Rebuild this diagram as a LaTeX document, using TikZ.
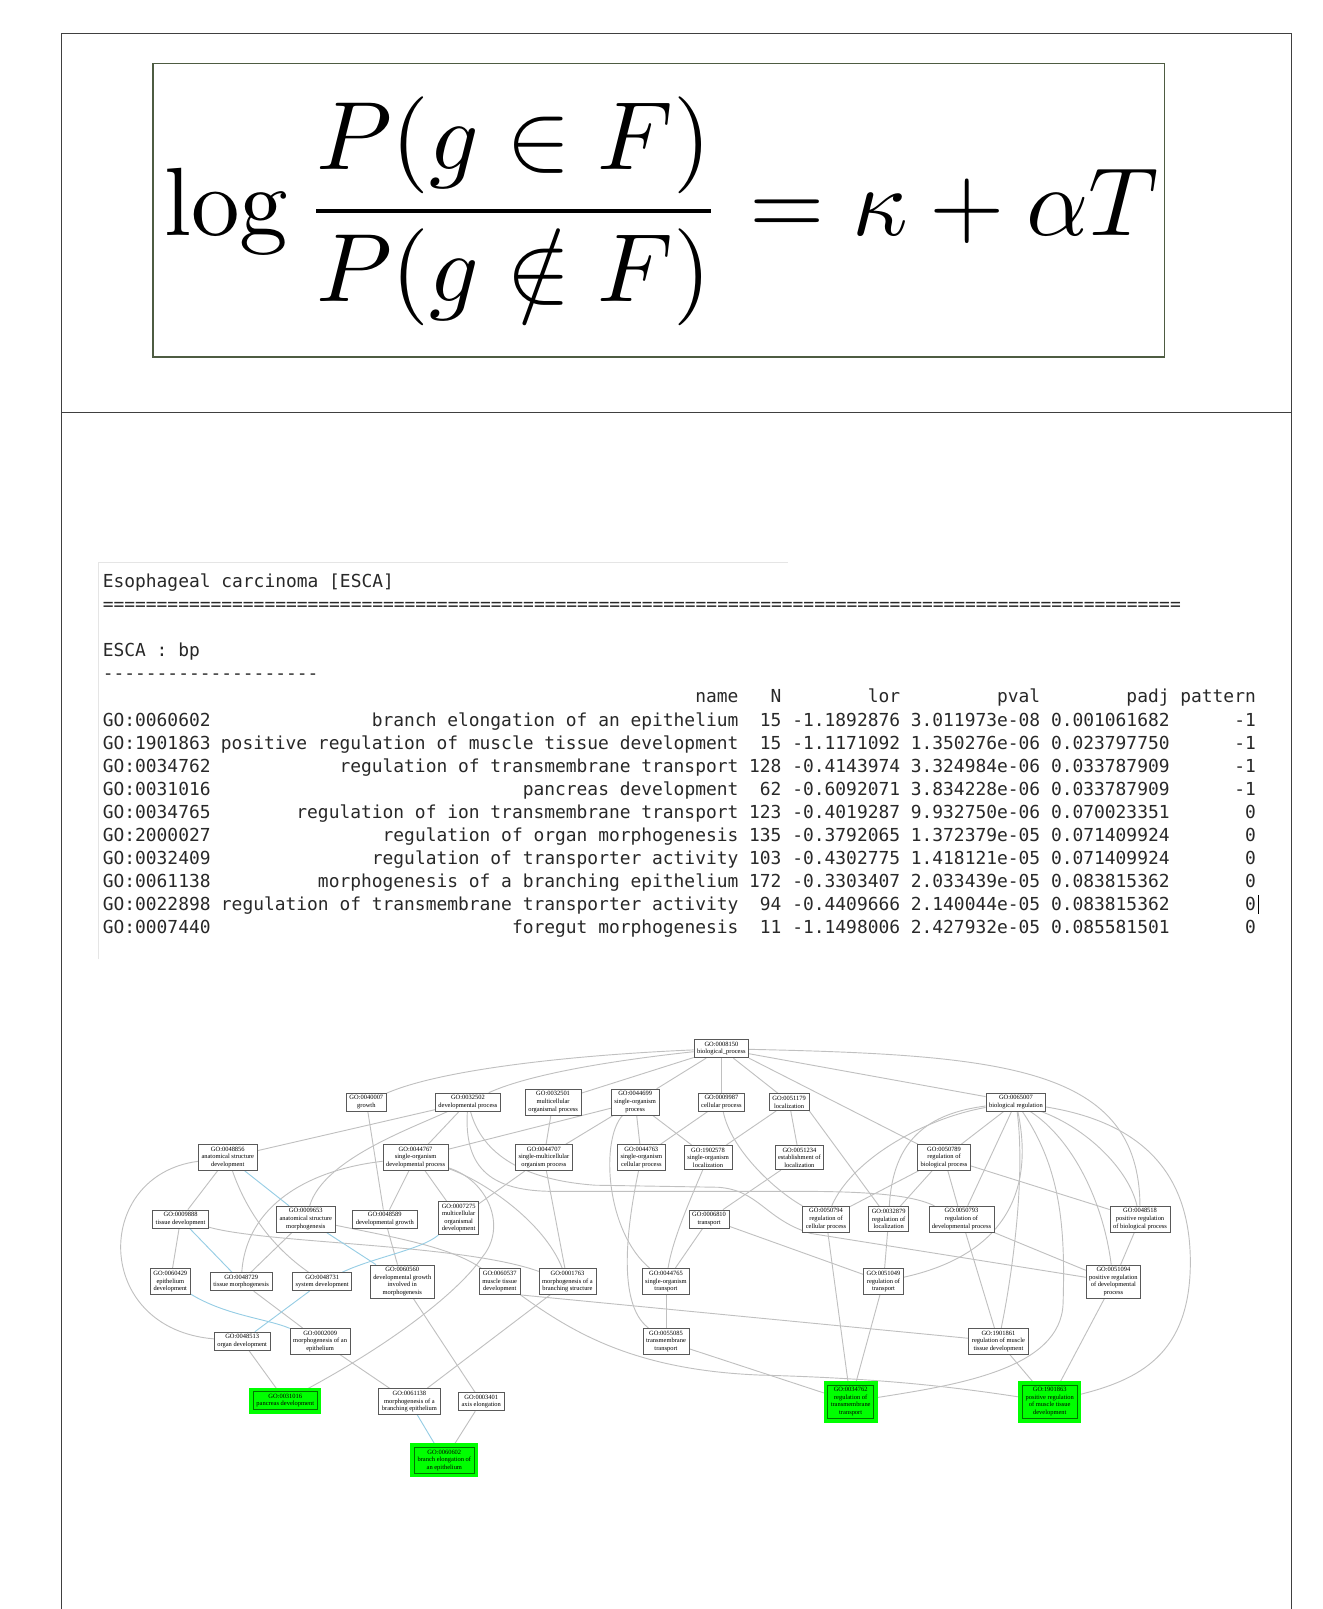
\documentclass[tikz,border=0pt]{standalone}
\usepackage{fontspec}
\setmonofont{DejaVu Sans Mono}
\newfontfamily\gofont{Liberation Serif}
\usepackage{amsmath}
\usepackage{graphicx}
\definecolor{framegreen}{RGB}{78,92,66}
\definecolor{edgegray}{RGB}{192,192,192}
\definecolor{partblue}{RGB}{150,205,228}
\definecolor{hitgreen}{RGB}{0,255,0}
\definecolor{consolegray}{RGB}{40,40,40}
\pgfdeclarelayer{edges}
\pgfsetlayers{edges,main}

\begin{document}
\begin{tikzpicture}[x=1pt, y=-1pt,
  gobox/.style={draw=black!65, line width=0.7pt, fill=white, align=center, inner xsep=3pt, inner ysep=2.4pt, font=\gofont\fontsize{6.3}{7.4}\selectfont},
  gohit/.style={gobox, fill=hitgreen, draw=black!55!green, preaction={draw=hitgreen, line width=8pt}},
  isa/.style={draw=edgegray, line width=0.9pt},
  partof/.style={draw=partblue, line width=0.9pt},
  console/.style={inner sep=0pt, text=consolegray, font=\ttfamily\fontsize{17.45}{20}\selectfont}
]
\useasboundingbox (0,0) rectangle (1289,1568);

% page frame
\draw[black!75, line width=1pt] (60,1568) -- (60,33) -- (1259,33) -- (1259,1568);
\draw[black!75, line width=1pt] (60,402) -- (1259,402);

% model
\draw[framegreen, line width=1.2pt] (149,62) rectangle (1135,348);
\node (logit) at (645,206) {\scalebox{9.45}{$\displaystyle \log\frac{P(g\in F)}{P(g\notin F)}=\kappa+\alpha T$}};

% console output
\draw[black!10, line width=1pt] (96,935) -- (96,548) -- (768,548);
\node[console, anchor=base west] (title) at (100,573) {Esophageal carcinoma [ESCA]};
\node[console, anchor=base west] (rule) at (100,595) {====================================================================================================};
\node[console, anchor=base west] (onto) at (100,640) {ESCA : bp};
\node[console, anchor=base west] (dashes) at (100,662) {--------------------};
\node[console, anchor=base east] (hname) at (719.8,685) {name};
\node[console, anchor=base east] (hn) at (761.8,685) {N};
\node[console, anchor=base east] (hlor) at (877.4,685) {lor};
\node[console, anchor=base east] (hpval) at (1013.9,685) {pval};
\node[console, anchor=base east] (hpadj) at (1140,685) {padj};
\node[console, anchor=base east] (hpat) at (1224,685) {pattern};
\foreach \id/\term/\nn/\lr/\pv/\pa/\pat [count=\r from 0] in {
  GO:0060602/branch elongation of an epithelium/15/-1.1892876/3.011973e-08/0.001061682/-1,
  GO:1901863/positive regulation of muscle tissue development/15/-1.1171092/1.350276e-06/0.023797750/-1,
  GO:0034762/regulation of transmembrane transport/128/-0.4143974/3.324984e-06/0.033787909/-1,
  GO:0031016/pancreas development/62/-0.6092071/3.834228e-06/0.033787909/-1,
  GO:0034765/regulation of ion transmembrane transport/123/-0.4019287/9.932750e-06/0.070023351/0,
  GO:2000027/regulation of organ morphogenesis/135/-0.3792065/1.372379e-05/0.071409924/0,
  GO:0032409/regulation of transporter activity/103/-0.4302775/1.418121e-05/0.071409924/0,
  GO:0061138/morphogenesis of a branching epithelium/172/-0.3303407/2.033439e-05/0.083815362/0,
  GO:0022898/regulation of transmembrane transporter activity/94/-0.4409666/2.140044e-05/0.083815362/0,
  GO:0007440/foregut morphogenesis/11/-1.1498006/2.427932e-05/0.085581501/0}{
  \pgfmathsetmacro\yb{708+22.44*\r}
  \node[console, anchor=base west] (id\r) at (100,\yb) {\id};
  \node[console, anchor=base east] (term\r) at (719.8,\yb) {\term};
  \node[console, anchor=base east] (n\r) at (761.8,\yb) {\nn};
  \node[console, anchor=base east] (lor\r) at (877.4,\yb) {\lr};
  \node[console, anchor=base east] (pval\r) at (1013.9,\yb) {\pv};
  \node[console, anchor=base east] (padj\r) at (1140,\yb) {\pa};
  \node[console, anchor=base east] (pat\r) at (1224,\yb) {\pat};
}
\draw[black, line width=1pt] (1226,872) -- (1226,891);

% GO graph
\node[gobox] (g0008150) at (703,1022) {GO:0008150\\biological\_process};
\node[gobox] (g0040007) at (357,1074) {GO:0040007\\growth};
\node[gobox] (g0032502) at (456,1074) {GO:0032502\\developmental process};
\node[gobox] (g0032501) at (539,1074) {GO:0032501\\multicellular\\organismal process};
\node[gobox] (g0044699) at (619,1074) {GO:0044699\\single-organism\\process};
\node[gobox] (g0009987) at (703,1074) {GO:0009987\\cellular process};
\node[gobox] (g0051179) at (769,1074) {GO:0051179\\localization};
\node[gobox] (g0065007) at (990,1074) {GO:0065007\\biological regulation};
\node[gobox] (g0048856) at (222,1128) {GO:0048856\\anatomical structure\\development};
\node[gobox] (g0044767) at (405,1128) {GO:0044767\\single-organism\\developmental process};
\node[gobox] (g0044707) at (530,1128) {GO:0044707\\single-multicellular\\organism process};
\node[gobox] (g0044763) at (625,1128) {GO:0044763\\single-organism\\cellular process};
\node[gobox] (g1902578) at (690,1128) {GO:1902578\\single-organism\\localization};
\node[gobox] (g0051234) at (779,1128) {GO:0051234\\establishment of\\localization};
\node[gobox] (g0050789) at (920,1128) {GO:0050789\\regulation of\\biological process};
\node[gobox] (g0009888) at (176,1188) {GO:0009888\\tissue development};
\node[gobox] (g0009653) at (298,1188) {GO:0009653\\anatomical structure\\morphogenesis};
\node[gobox] (g0048589) at (375,1188) {GO:0048589\\developmental growth};
\node[gobox] (g0007275) at (447,1187) {GO:0007275\\multicellular\\organismal\\development};
\node[gobox] (g0006810) at (691,1188) {GO:0006810\\transport};
\node[gobox] (g0050794) at (805,1188) {GO:0050794\\regulation of\\cellular process};
\node[gobox] (g0032879) at (866,1188) {GO:0032879\\regulation of\\localization};
\node[gobox] (g0050793) at (937,1188) {GO:0050793\\regulation of\\developmental process};
\node[gobox] (g0048518) at (1111,1188) {GO:0048518\\positive regulation\\of biological process};
\node[gobox] (g0060429) at (166,1249) {GO:0060429\\epithelium\\development};
\node[gobox] (g0048729) at (235,1249) {GO:0048729\\tissue morphogenesis};
\node[gobox] (g0048731) at (314,1249) {GO:0048731\\system development};
\node[gobox] (g0060560) at (392,1249) {GO:0060560\\developmental growth\\involved in\\morphogenesis};
\node[gobox] (g0060537) at (487,1249) {GO:0060537\\muscle tissue\\development};
\node[gobox] (g0001763) at (553,1249) {GO:0001763\\morphogenesis of a\\branching structure};
\node[gobox] (g0044765) at (649,1249) {GO:0044765\\single-organism\\transport};
\node[gobox] (g0051049) at (861,1249) {GO:0051049\\regulation of\\transport};
\node[gobox] (g0051094) at (1085,1249) {GO:0051094\\positive regulation\\of developmental\\process};
\node[gobox] (g0048513) at (236,1307) {GO:0048513\\organ development};
\node[gobox] (g0002009) at (312,1307) {GO:0002009\\morphogenesis of an\\epithelium};
\node[gobox] (g0055085) at (649,1307) {GO:0055085\\transmembrane\\transport};
\node[gobox] (g1901861) at (973,1307) {GO:1901861\\regulation of muscle\\tissue development};
\node[gohit] (g0031016) at (278,1365) {GO:0031016\\pancreas development};
\node[gobox] (g0061138) at (399,1366) {GO:0061138\\morphogenesis of a\\branching epithelium};
\node[gobox] (g0003401) at (469,1366) {GO:0003401\\axis elongation};
\node[gohit] (g0034762) at (829,1366) {GO:0034762\\regulation of\\transmembrane\\transport};
\node[gohit] (g1901863) at (1023,1366) {GO:1901863\\positive regulation\\of muscle tissue\\development};
\node[gohit] (g0060602) at (433,1423) {GO:0060602\\branch elongation of\\an epithelium};

\begin{pgfonlayer}{edges}
% is_a links
\foreach \a/\b in {0008150/0032501, 0008150/0044699, 0008150/0009987, 0008150/0051179, 0008150/0065007,
  0040007/0048589, 0032502/0048856, 0032502/0044767, 0032501/0044707, 0044699/0044767, 0044699/0044707,
  0044699/0044763, 0044699/1902578, 0009987/0044763, 0051179/1902578, 0051179/0051234, 0065007/0050789,
  0065007/0050793, 0048856/0009888, 0044767/0048589, 0044767/0007275, 0044707/0007275, 0044707/0001763,
  0051234/0006810, 0050789/0050794, 0050789/0032879, 0050789/0050793, 0050789/0048518, 0009888/0060429,
  0009653/0048729, 0048589/0060560, 0006810/0044765, 0006810/0051049, 0050794/0034762, 0032879/0051049,
  0050793/0051094, 0050793/1901861, 0048518/0051094, 0048729/0002009, 0060560/0003401, 0001763/0061138,
  0044765/0055085, 0051049/0034762, 0051094/1901863, 0048513/0031016, 0002009/0061138, 0055085/0034762,
  1901861/1901863, 0003401/0060602}
  \draw[isa] (g\a) -- (g\b);
\draw[isa] (g0008150.south east) -- (g0050789);
\draw[isa] (g0051179.south east) -- (g0032879);
\draw[isa] (g0060537.south east) -- (g1901861);
\draw[isa] (g0008150) .. controls (560,1028) and (430,1042) .. (g0040007);
\draw[isa] (g0008150) .. controls (610,1032) and (520,1045) .. (g0032502);
\draw[isa] (g0008150) .. controls (980,1028) and (1110,1040) .. (g0048518);
\draw[isa] (g0032502) .. controls (400,1100) and (315,1130) .. (g0009653);
\draw[isa] (g0032502) .. controls (452,1140) and (480,1161) .. (540,1161) -- (780,1161) .. controls (850,1161) and (890,1165) .. (g0050793);
\draw[isa] (g0032502) .. controls (470,1125) and (510,1150) .. (580,1155) -- (700,1157) .. controls (740,1160) and (745,1188) .. (790,1202) -- (g0051094);
\draw[isa] (g0044699) .. controls (585,1110) and (590,1200) .. (g0044765);
\draw[isa] (g0044763) .. controls (612,1190) and (600,1270) .. (g0055085);
\draw[isa] (g1902578) .. controls (670,1175) and (655,1210) .. (g0044765);
\draw[isa] (g0009987) .. controls (712,1120) and (755,1160) .. (g0050794);
\draw[isa] (g0065007) .. controls (900,1090) and (830,1130) .. (g0050794);
\draw[isa] (g0065007) .. controls (905,1085) and (870,1110) .. (g0032879);
\draw[isa] (g0065007) .. controls (1010,1170) and (970,1225) .. (g0051049);
\draw[isa] (g0065007) .. controls (1000,1150) and (985,1250) .. (g1901861);
\draw[isa] (g0065007) .. controls (1045,1110) and (1075,1170) .. (g0051094);
\draw[isa] (g0065007) .. controls (1060,1100) and (1100,1140) .. (g0048518);
\draw[isa] (g0065007) .. controls (1035,1140) and (1038,1200) .. (1036,1270) .. controls (1034,1335) and (930,1350) .. (g0034762);
\draw[isa] (g0065007) .. controls (1120,1095) and (1160,1150) .. (1160,1230) .. controls (1160,1320) and (1110,1345) .. (g1901863);
\draw[isa] (g0048856) .. controls (240,1180) and (265,1215) .. (g0048731);
\draw[isa] (g0048856) .. controls (90,1145) and (90,1295) .. (g0048513);
\draw[isa] (g0044767) .. controls (300,1140) and (240,1175) .. (g0048729);
\draw[isa] (g0044767) .. controls (475,1150) and (495,1195) .. (470,1225) .. controls (450,1255) and (390,1305) .. (g0031016);
\draw[isa] (g0044767) .. controls (470,1150) and (530,1190) .. (g0001763);
\draw[isa] (g0009888) .. controls (260,1212) and (450,1212) .. (g0001763);
\draw[isa] (g0009653) .. controls (380,1205) and (440,1215) .. (g0060537);
\draw[isa] (g0060537.south east) .. controls (560,1300) and (620,1335) .. (740,1340) .. controls (850,1343) and (920,1350) .. (g1901863);
% part_of links
\foreach \a/\b in {0048856/0009653, 0009888/0048729, 0009653/0060560, 0048731/0048513, 0061138/0060602}
  \draw[partof] (g\a) -- (g\b);
\draw[partof] (g0007275) .. controls (410,1218) and (365,1225) .. (g0048731);
\draw[partof] (g0060429) .. controls (220,1282) and (260,1285) .. (g0002009);
\end{pgfonlayer}
\end{tikzpicture}
\end{document}
